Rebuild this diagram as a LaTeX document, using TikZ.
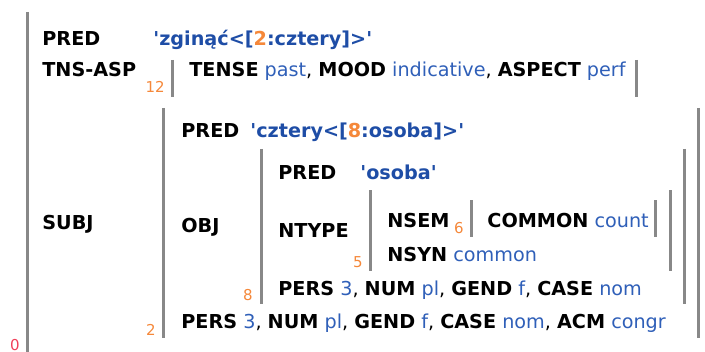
\documentclass[tikz,border=0pt]{standalone}
\usepackage{fontspec}
\setmainfont{DejaVu Sans}
\definecolor{valblue}{HTML}{2F5FB8}
\definecolor{predblue}{HTML}{1E4DA6}
\definecolor{idxorange}{HTML}{F5883A}
\definecolor{idxred}{HTML}{F0405A}
\definecolor{bargray}{HTML}{888888}
\newcommand{\ft}[1]{\textbf{#1}}
\newcommand{\vl}[1]{\textcolor{valblue}{#1}}
\newcommand{\pv}[1]{\textcolor{predblue}{\textbf{#1}}}
\newcommand{\ix}[1]{\textcolor{idxorange}{#1}}
\newcommand{\sq}{\XeTeXglyph\XeTeXcharglyph"0027\relax}
\begin{document}
\begin{tikzpicture}[x=0.5pt,y=-0.5pt,
  txt/.style={anchor=base west,inner sep=0pt,font=\fontsize{9.6}{11}\selectfont},
  lbl/.style={anchor=base east,inner sep=0pt,font=\fontsize{7.5}{9}\selectfont,text=idxorange},
  bar/.style={draw=bargray,line width=1.5pt}]
\useasboundingbox (0,0) rectangle (705,352);
% bars
\draw[bar] (27,12) -- (27,360);
\draw[bar] (172.5,60) -- (172.5,97);
\draw[bar] (636,60) -- (636,97);
\draw[bar] (163,108) -- (163,338);
\draw[bar] (698,108) -- (698,338);
\draw[bar] (261,149) -- (261,304);
\draw[bar] (684,149) -- (684,304);
\draw[bar] (370,190) -- (370,271);
\draw[bar] (670,190) -- (670,271);
\draw[bar] (471,200) -- (471,237);
\draw[bar] (655,200) -- (655,237);
% labels
\node[lbl,text=idxred] (l0) at (20,350) {0};
\node[lbl] (l12) at (165,93) {12};
\node[lbl] (l2) at (156,335) {2};
\node[lbl] (l8) at (253,300) {8};
\node[lbl] (l5) at (363,267) {5};
\node[lbl] (l6) at (464,233) {6};
% text
\node[txt] (p0) at (42,46) {\ft{PRED}};
\node[txt] (p0v) at (153,46) {\pv{\sq zginąć<[\ix{2}:cztery]>\sq}};
\node[txt] (tns) at (42,77) {\ft{TNS-ASP}};
\node[txt] (tnsv) at (189,77) {\ft{TENSE} \vl{past}, \ft{MOOD} \vl{indicative}, \ft{ASPECT} \vl{perf}};
\node[txt] (subj) at (42,229) {\ft{SUBJ}};
\node[txt] (p2) at (181,138) {\ft{PRED}};
\node[txt] (p2v) at (250,138) {\pv{\sq cztery<[\ix{8}:osoba]>\sq}};
\node[txt] (obj) at (181,232) {\ft{OBJ}};
\node[txt] (p8) at (278,179) {\ft{PRED}};
\node[txt] (p8v) at (360,179) {\pv{\sq osoba\sq}};
\node[txt] (ntype) at (278,237) {\ft{NTYPE}};
\node[txt] (nsem) at (387,227) {\ft{NSEM}};
\node[txt] (common) at (487,227) {\ft{COMMON} \vl{count}};
\node[txt] (nsyn) at (387,261) {\ft{NSYN} \vl{common}};
\node[txt] (agr8) at (278,295) {\ft{PERS} \vl{3}, \ft{NUM} \vl{pl}, \ft{GEND} \vl{f}, \ft{CASE} \vl{nom}};
\node[txt] (agr2) at (181,328) {\ft{PERS} \vl{3}, \ft{NUM} \vl{pl}, \ft{GEND} \vl{f}, \ft{CASE} \vl{nom}, \ft{ACM} \vl{congr}};
\end{tikzpicture}
\end{document}
